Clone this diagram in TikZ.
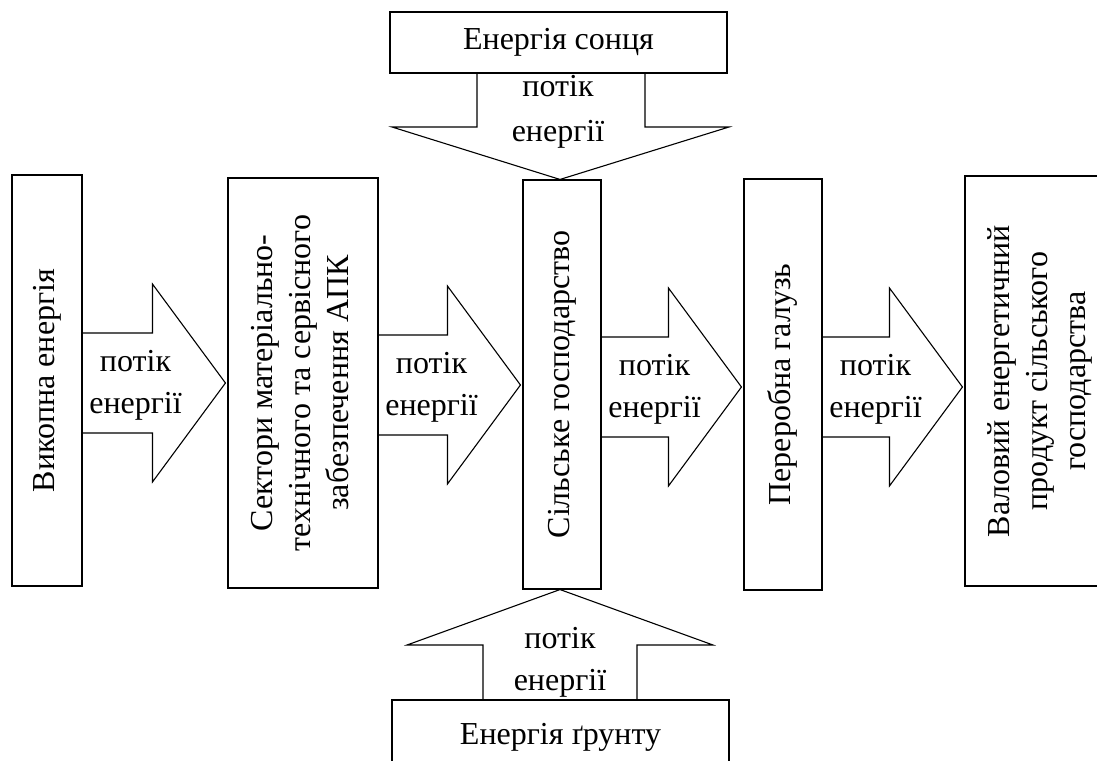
\documentclass[tikz,border=0pt]{standalone}
\usepackage{fontspec}
\setmainfont{Liberation Serif}
\usetikzlibrary{calc}
\tikzset{
  box/.style={draw, line width=1.1pt, inner sep=0pt, font=\fontsize{32}{38}\selectfont},
  flow/.style={draw, line width=1.1pt, line join=miter},
  flowtext/.style={align=center, inner sep=0pt, font=\fontsize{32}{42}\selectfont},
}
% vertical (bottom-to-top) multi-line box text
\newcommand\sideways[1]{\rotatebox{90}{\begin{tabular}{@{}c@{}}#1\end{tabular}}}
% block arrow pointing right from node #1 to node #2, axis at height #3
\newcommand\flowright[3]{%
  \draw[flow] (#1.east |- 0,#3-50) -- ($(#2.west |- 0,#3-50)+(-75,0)$)
    -- ($(#2.west |- 0,#3-99)+(-75,0)$) -- ($(#2.west |- 0,#3)+(-2,0)$)
    -- ($(#2.west |- 0,#3+99)+(-75,0)$) -- ($(#2.west |- 0,#3+50)+(-75,0)$)
    -- (#1.east |- 0,#3+50);
  \node[flowtext] at ($(#1.east |- 0,#3)+(53,2)$) {потік\\енергії};}
\begin{document}
\begin{tikzpicture}[x=1pt,y=-1pt]
\useasboundingbox (0,0) rectangle (1097,760);
\clip (0,0) rectangle (1097,760);

% chain of sectors
\node[box, minimum width=70, minimum height=411] (fossil) at (47,380.5) {\sideways{Викопна енергія}};
\node[box, minimum width=150, minimum height=410] (sectors) at (303,383) {\sideways{Сектори матеріально-\\технічного та сервісного\\забезпечення АПК}};
\node[box, minimum width=78, minimum height=409] (farm) at (562,384.5) {\sideways{Сільське господарство}};
\node[box, minimum width=78, minimum height=411] (proc) at (783,384.5) {\sideways{Переробна галузь}};
\node[box, minimum width=150, minimum height=410] (gross) at (1040,381) {\sideways{Валовий енергетичний\\продукт сільського\\господарства}};

% external sources
\node[box, minimum width=337, minimum height=61] (sun) at (558.5,42.5) {Енергія сонця};
\node[box, minimum width=337, minimum height=74] (soil) at (560.5,737) {Енергія ґрунту};

% horizontal energy flows
\flowright{fossil}{sectors}{383}
\flowright{sectors}{farm}{385}
\flowright{farm}{proc}{387}
\flowright{proc}{gross}{387}

% flow from the sun
\draw[flow] (sun.south -| 477,0) -- (477,127) -- (392,127) -- ($(farm.north)+(-2,0)$)
  -- (729,127) -- (645,127) -- (sun.south -| 645,0);
\node[flowtext, font=\fontsize{32}{45}\selectfont] at (558,112) {потік\\енергії};

% flow from the soil
\draw[flow] (soil.north -| 483,0) -- (483,645) -- (407,645) -- ($(farm.south)+(-2,0)$)
  -- (713,645) -- (637,645) -- (soil.north -| 637,0);
\node[flowtext] at (560,662) {потік\\енергії};
\end{tikzpicture}
\end{document}
